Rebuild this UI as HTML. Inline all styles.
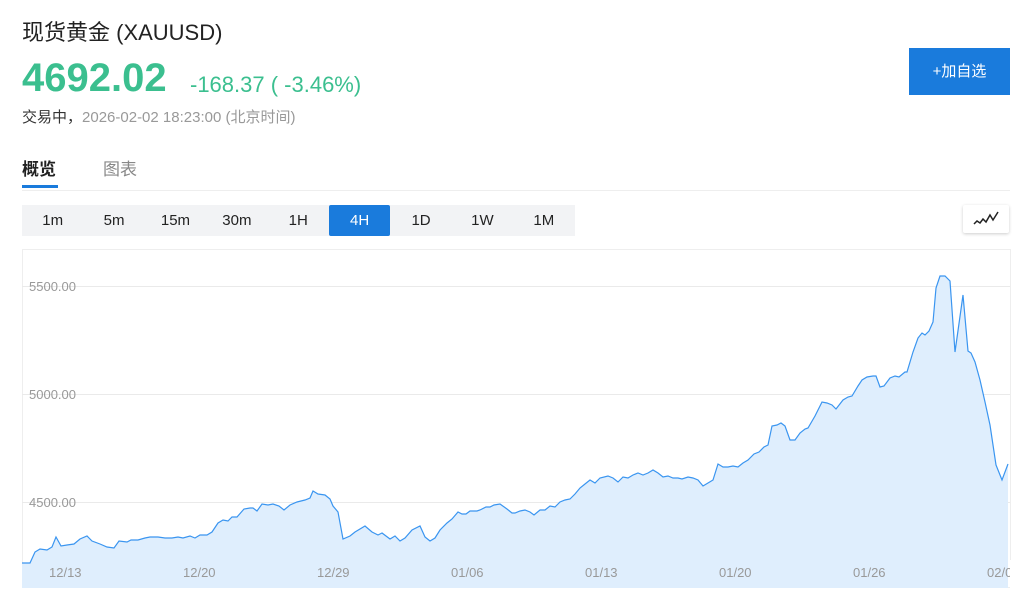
<!DOCTYPE html>
<html><head><meta charset="utf-8"><style>
body{margin:0;width:1024px;height:599px;background:#fff;font-family:"Liberation Sans","Noto Sans CJK SC",sans-serif;position:relative;overflow:hidden}
.a{position:absolute;white-space:nowrap}
.btns{position:absolute;left:22px;top:205px;height:31px;display:flex;background:#f2f3f5}
.btns div{width:61.4px;text-align:center;line-height:31px;font-size:15px;color:#222}
.btns .on{background:#1a7bdc;color:#fff;border-radius:2px}
</style></head><body>
<div class="a" style="left:22px;top:15px;font-size:22px;color:#222">现货黄金 (XAUUSD)</div>
<div class="a" style="left:22px;top:56px;font-size:40px;font-weight:bold;color:#3bbf8f">4692.02</div>
<div class="a" style="left:190px;top:72px;font-size:22px;color:#3bbf8f">-168.37 ( -3.46%)</div>
<div class="a" style="left:22px;top:106px;font-size:15px;color:#333">交易中，<span style="color:#999">2026-02-02 18:23:00 (北京时间)</span></div>
<div class="a" style="left:909px;top:48px;width:101px;height:47px;background:#1a7bdc;color:#fff;font-size:15px;text-align:center;line-height:47px">+加自选</div>
<div class="a" style="left:22px;top:155px;font-size:17px;font-weight:bold;color:#222">概览</div>
<div class="a" style="left:103px;top:155px;font-size:17px;color:#888">图表</div>
<div class="a" style="left:22px;top:185px;width:36px;height:3px;background:#1a7bdc"></div>
<div class="a" style="left:22px;top:190px;width:988px;height:1px;background:#eee"></div>
<div class="btns"><div>1m</div><div>5m</div><div>15m</div><div>30m</div><div>1H</div><div class="on">4H</div><div>1D</div><div>1W</div><div>1M</div></div>
<div class="a" style="left:963px;top:205px;width:46px;height:28px;background:#fff;box-shadow:0 1px 3px rgba(0,0,0,.2);border-radius:2px"><svg width="46" height="28"><polyline points="11,19 14,16 17,18 20,14 23,17 27,10 30,15 35,7" fill="none" stroke="#222" stroke-width="1.5"/></svg></div>
<svg class="a" style="left:0;top:0" width="1024" height="599">
<rect x="22.5" y="249.5" width="988" height="338" fill="none" stroke="#eee"/>
<g stroke="#eaeaea"><line x1="22" y1="286.5" x2="1010" y2="286.5"/><line x1="22" y1="394.5" x2="1010" y2="394.5"/><line x1="22" y1="502.5" x2="1010" y2="502.5"/></g>
<polygon fill="#dfeefd" points="22,588 22,563 30,563 35,552 40,549 47,550 52,547 56,537 61,546 67,545 74,544 80,539 87,536 92,541 100,544 107,547 114,548 119,541 127,542 131,540 138,540 145,538 150,537 158,537 165,538 172,538 178,537 183,538 190,536 195,538 200,535 207,535 212,532 218,523 223,520 228,521 232,517 237,517 244,509 250,508 253,508 257,511 262,504 268,505 273,504 279,506 284,510 290,505 297,502 305,500 310,498 313,491 318,494 325,495 330,499 333,506 338,512 343,539 350,536 355,532 365,526 372,532 378,535 382,533 390,539 395,536 400,541 405,538 412,530 420,526 425,537 430,541 435,538 440,530 447,523 452,519 458,512 462,514 466,514 470,511 477,511 480,510 486,507 490,507 494,505 500,504 507,509 512,513 515,513 520,511 525,510 530,512 534,515 540,510 545,510 550,506 555,507 560,502 565,500 570,499 575,494 580,488 585,484 590,480 595,483 600,478 608,476 613,478 618,482 623,477 628,478 633,475 638,473 643,475 648,473 653,470 658,473 663,477 668,476 673,478 678,478 682,479 688,477 693,478 698,480 703,486 708,483 713,480 718,464 723,467 728,467 733,466 738,467 743,463 748,460 754,454 759,452 764,447 768,445 772,426 777,425 781,423 785,426 790,440 795,440 800,433 805,429 808,428 815,416 822,402 827,403 832,405 836,409 843,400 848,397 852,396 858,386 862,380 867,377 873,376 876,376 880,387 884,386 890,378 895,376 899,377 905,372 907,372 913,352 918,338 922,333 925,335 929,331 933,322 936,288 940,276 945,276 950,281 955,352 963,295 968,351 971,353 975,362 980,380 985,402 990,425 996,465 1002,480 1008,464 1008,588"/>
<polyline fill="none" stroke="#3a95f0" stroke-width="1.2" points="22,563 30,563 35,552 40,549 47,550 52,547 56,537 61,546 67,545 74,544 80,539 87,536 92,541 100,544 107,547 114,548 119,541 127,542 131,540 138,540 145,538 150,537 158,537 165,538 172,538 178,537 183,538 190,536 195,538 200,535 207,535 212,532 218,523 223,520 228,521 232,517 237,517 244,509 250,508 253,508 257,511 262,504 268,505 273,504 279,506 284,510 290,505 297,502 305,500 310,498 313,491 318,494 325,495 330,499 333,506 338,512 343,539 350,536 355,532 365,526 372,532 378,535 382,533 390,539 395,536 400,541 405,538 412,530 420,526 425,537 430,541 435,538 440,530 447,523 452,519 458,512 462,514 466,514 470,511 477,511 480,510 486,507 490,507 494,505 500,504 507,509 512,513 515,513 520,511 525,510 530,512 534,515 540,510 545,510 550,506 555,507 560,502 565,500 570,499 575,494 580,488 585,484 590,480 595,483 600,478 608,476 613,478 618,482 623,477 628,478 633,475 638,473 643,475 648,473 653,470 658,473 663,477 668,476 673,478 678,478 682,479 688,477 693,478 698,480 703,486 708,483 713,480 718,464 723,467 728,467 733,466 738,467 743,463 748,460 754,454 759,452 764,447 768,445 772,426 777,425 781,423 785,426 790,440 795,440 800,433 805,429 808,428 815,416 822,402 827,403 832,405 836,409 843,400 848,397 852,396 858,386 862,380 867,377 873,376 876,376 880,387 884,386 890,378 895,376 899,377 905,372 907,372 913,352 918,338 922,333 925,335 929,331 933,322 936,288 940,276 945,276 950,281 955,352 963,295 968,351 971,353 975,362 980,380 985,402 990,425 996,465 1002,480 1008,464"/>
<g font-size="13" fill="#999" font-family="Liberation Sans,sans-serif">
<text x="29" y="291">5500.00</text><text x="29" y="399">5000.00</text><text x="29" y="507">4500.00</text>
<text x="49" y="577">12/13</text><text x="183" y="577">12/20</text><text x="317" y="577">12/29</text><text x="451" y="577">01/06</text><text x="585" y="577">01/13</text><text x="719" y="577">01/20</text><text x="853" y="577">01/26</text><text x="987" y="577">02/02</text>
</g>
<rect x="1010" y="560" width="14" height="30" fill="#fff"/>
</svg>
</body></html>
